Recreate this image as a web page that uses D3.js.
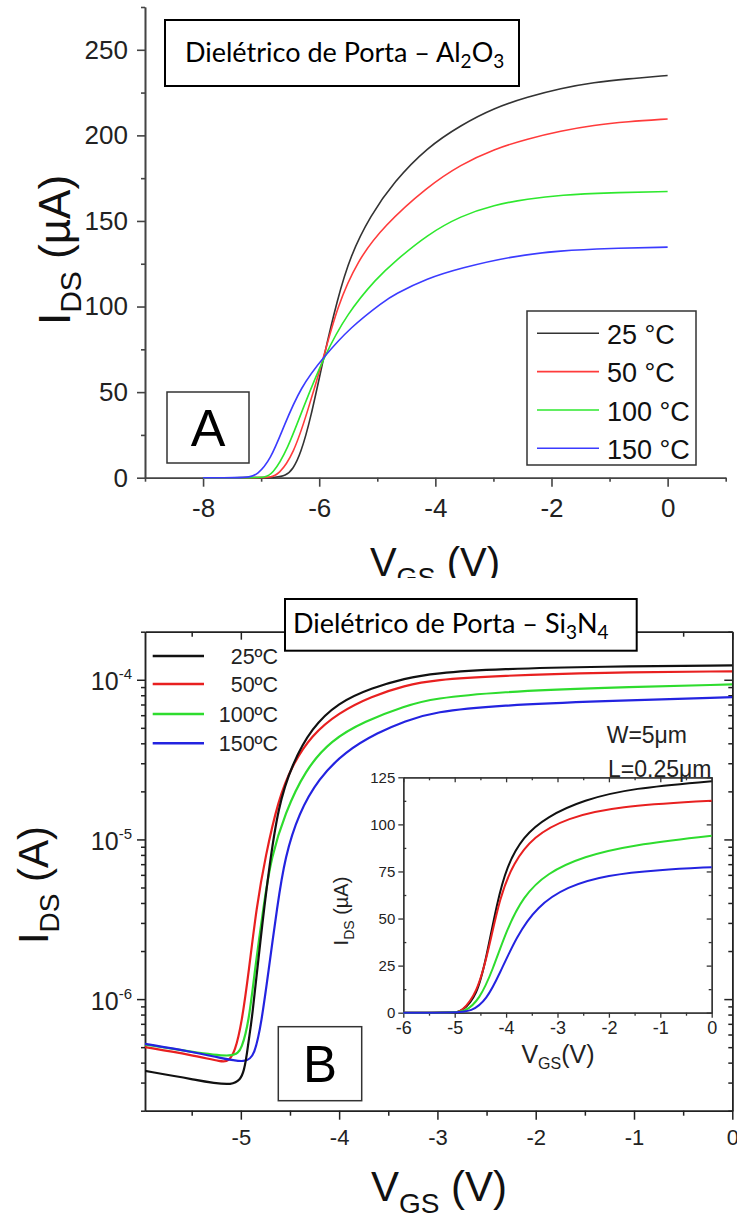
<!DOCTYPE html>
<html>
<head>
<meta charset="utf-8">
<script src="https://cdn.jsdelivr.net/npm/d3@7"></script>
<style>
  html, body { margin: 0; padding: 0; background: #fff; }
  svg { display: block; }
</style>
</head>
<body>
<script>
// ---------------- DATA ----------------
// Panel A (Al2O3), linear, IDS in µA
const seriesNames = ["25 °C", "50 °C", "100 °C", "150 °C"];
const seriesNamesB = ["25ºC", "50ºC", "100ºC", "150ºC"];

const vA25 = [-8,-7,-6.75,-6.58,-6.45,-6.32,-6.15,-5.92,-5.69,-5.46,-5.12,-4.71,-4.14,-3.56,-2.99,-2.41,-1.84,-1.27,-0.69,0];
const iA25 = [0,0,0.2,1,5,14,34,71,104,130,153,173,193,206,216,222.5,227.5,231,233,235];
const vA50 = [-8,-7,-6.85,-6.70,-6.44,-6.21,-5.92,-5.69,-5.34,-4.89,-4.14,-3.56,-2.99,-2.41,-1.84,-1.27,-0.69,0];
const iA50 = [0,0,0.2,1.6,14,37.6,70.7,100,127,147,170,183,192,198,202.6,206,208,209.6];
const vA100 = [-8,-7.1,-6.95,-6.81,-6.55,-6.27,-5.92,-5.52,-5.0,-4.71,-4.14,-3.56,-2.99,-2.41,-1.84,-1,0];
const iA100 = [0,0,0.2,1.6,16,41.5,70.7,96,117,126,142,153,159.4,162.9,165.2,166.5,167.2];
const vA150 = [-8,-7.4,-7.2,-7.07,-6.84,-6.61,-6.32,-5.92,-5.46,-4.89,-4.71,-4.14,-3.56,-2.70,-1.84,-1,0];
const iA150 = [0,0,0.3,1.6,10.3,30,53,70.7,88,103,107,116.5,122.5,129.3,132.7,134,134.7];

const xTicksA = [-8,-6,-4,-2,0];
const xMinorA = [-9,-7,-5,-3,-1,1];
const yTicksA = [0,50,100,150,200,250];
const yMinorA = [25,75,125,175,225,275];

// Panel B (Si3N4), log, IDS in A
const vB25 = [-5.975,-5.5,-5.05,-4.96,-4.92,-4.89,-4.80,-4.72,-4.62,-4.48,-4.28,-4.01,-3.67,-3.33,-3.04,-2.36,-1.35,0];
const iB25 = [3.55e-7,3.16e-7,2.78e-7,3.48e-7,5.62e-7,7.14e-7,2.37e-6,6.17e-6,1.62e-5,2.95e-5,5.0e-5,7.2e-5,8.9e-5,1.02e-4,1.10e-4,1.17e-4,1.21e-4,1.23e-4];
const vB50 = [-5.975,-5.5,-5.18,-5.13,-5.06,-4.99,-4.92,-4.84,-4.75,-4.62,-4.48,-4.28,-4.01,-3.67,-3.33,-3.04,-2.36,-1.35,0];
const iB50 = [5.01e-7,4.47e-7,4.03e-7,4.07e-7,4.65e-7,7.14e-7,1.47e-6,3.81e-6,7.82e-6,1.77e-5,2.9e-5,4.5e-5,6.2e-5,7.9e-5,9.2e-5,1.0e-4,1.06e-4,1.11e-4,1.13e-4];
const vB100 = [-5.975,-5.5,-5.06,-4.99,-4.92,-4.86,-4.77,-4.69,-4.55,-4.35,-4.08,-3.74,-3.33,-3.04,-2.36,-1.35,0];
const iB100 = [5.19e-7,4.68e-7,4.27e-7,4.90e-7,7.14e-7,1.47e-6,3.81e-6,7.82e-6,1.46e-5,2.7e-5,4.2e-5,5.5e-5,6.85e-5,7.65e-5,8.4e-5,8.91e-5,9.35e-5];
const vB150 = [-5.975,-5.5,-5.2,-4.95,-4.86,-4.79,-4.72,-4.63,-4.55,-4.41,-4.21,-3.94,-3.60,-3.33,-3.04,-2.36,-1.35,0];
const iB150 = [5.25e-7,4.68e-7,4.27e-7,3.98e-7,4.43e-7,7.14e-7,1.47e-6,3.81e-6,7.82e-6,1.46e-5,2.4e-5,3.55e-5,4.7e-5,5.5e-5,6.3e-5,6.92e-5,7.35e-5,7.78e-5];

const xTicksB = [-5,-4,-3,-2,-1,0];
const xMinorB = [-5.5,-4.5,-3.5,-2.5,-1.5,-0.5];
const yTicksB = [1e-6,1e-5,1e-4];
const yTickExpB = ["-6","-5","-4"];
const yMinorB = [2e-7,3e-7,4e-7,5e-7,6e-7,7e-7,8e-7,9e-7,2e-6,3e-6,4e-6,5e-6,6e-6,7e-6,8e-6,9e-6,2e-5,3e-5,4e-5,5e-5,6e-5,7e-5,8e-5,9e-5,2e-4];

// Inset (linear, µA)
const vI25 = [-6,-5,-4.87,-4.57,-4.38,-4.18,-3.99,-3.67,-3.21,-2.50,-1.53,0];
const iI25 = [0,0,0.5,8.5,29.8,58,77.7,93.6,104,113,119.3,122.9];
const vI50 = [-6,-5,-4.87,-4.57,-4.35,-4.12,-3.86,-3.47,-2.82,-1.85,0];
const iI50 = [0,0,0.5,10,32,61.7,79.4,93.6,103.4,109.6,112.6];
const vI100 = [-6,-5,-4.80,-4.52,-4.26,-3.99,-3.67,-3.21,-2.50,-1.53,0];
const iI100 = [0,0,0.5,6.8,22.7,44,61.7,74.1,83,89.2,94];
const vI150 = [-6,-5,-4.67,-4.38,-4.12,-3.80,-3.40,-2.82,-2.04,-1.01,0];
const iI150 = [0,0,0.5,6.8,21,40.4,56.4,67,73.2,75.9,77.3];

const xTicksI = [-6,-5,-4,-3,-2,-1,0];
const xMinorI = [-5.5,-4.5,-3.5,-2.5,-1.5,-0.5];
const yTicksI = [0,25,50,75,100,125];
const yMinorI = [12.5,37.5,62.5,87.5,112.5];

// ---------------- DRAW ----------------
const FONT = "'Liberation Sans', Arial, Helvetica, sans-serif";
const TFONT = "Lato, 'Open Sans', sans-serif";
const colorsA = ["#333333", "#ff3b3b", "#2ee82e", "#3b3bff"];
const colorsB = ["#111111", "#e82020", "#2edc2e", "#2323e0"];

const svg = d3.select("body").append("svg")
  .attr("width", 737).attr("height", 1218)
  .attr("viewBox", "0 0 737 1218");
svg.append("rect").attr("width", 737).attr("height", 1218).attr("fill", "#fff");

function rich(parent, x, y, o, parts) {
  const t = parent.append("text").attr("x", x).attr("y", y)
    .attr("font-family", o.family || FONT).attr("font-size", o.size)
    .attr("text-anchor", o.anchor || "start").attr("fill", o.fill || "#111");
  if (o.rotate) t.attr("transform", `rotate(${o.rotate},${x},${y})`);
  parts.forEach(p => {
    const ts = t.append("tspan").text(p.t);
    if (p.dy) ts.attr("dy", p.dy);
    if (p.size) ts.attr("font-size", p.size);
  });
  return t;
}
function styleAxis(g, col, w) {
  g.selectAll("path.domain").attr("stroke", col).attr("stroke-width", w);
  g.selectAll(".tick line").attr("stroke", col).attr("stroke-width", w);
  g.selectAll(".tick text").attr("fill", "#222");
  g.attr("font-family", FONT);
}

// ===== Panel A =====
const xA = d3.scaleLinear().domain([-9, 1]).range([145, 725.7]);
const yA = d3.scaleLinear().domain([0, 275]).range([477.7, 7]);
const gA = svg.append("g");

const axA = gA.append("g").attr("transform", `translate(0,${yA(0)})`);
axA.append("g").call(d3.axisBottom(xA).tickValues(xMinorA).tickSize(4).tickFormat("").tickSizeOuter(0));
axA.append("g").call(d3.axisBottom(xA).tickValues(xTicksA).tickSize(9).tickPadding(12).tickSizeOuter(0).tickFormat(d => String(d)))
  .attr("font-size", 26);
styleAxis(axA, "#444", 1.6);
axA.attr("font-size", 26);

const ayA = gA.append("g").attr("transform", `translate(${xA(-9)},0)`);
ayA.append("g").call(d3.axisLeft(yA).tickValues(yMinorA).tickSize(4).tickFormat("").tickSizeOuter(0));
ayA.append("g").call(d3.axisLeft(yA).tickValues(yTicksA).tickSize(8).tickPadding(9).tickSizeOuter(0).tickFormat(d => String(d)))
  .attr("font-size", 26);
styleAxis(ayA, "#444", 1.6);

const dataA = [[vA25, iA25], [vA50, iA50], [vA100, iA100], [vA150, iA150]];
const lineA = d3.line().x(d => xA(d[0])).y(d => yA(d[1])).curve(d3.curveBasis);
dataA.forEach((s, k) => {
  gA.append("path").datum(d3.zip(s[0], s[1])).attr("d", lineA)
    .attr("fill", "none").attr("stroke", colorsA[k]).attr("stroke-width", 1.6);
});

// title box A
gA.append("rect").attr("x", 165).attr("y", 20).attr("width", 354).attr("height", 66)
  .attr("fill", "#fff").attr("stroke", "#000").attr("stroke-width", 2);
rich(gA, 185, 62, {family: TFONT, size: 27, fill: "#000"},
  [{t: "Dielétrico de Porta – Al"}, {t: "2", dy: 6, size: 19}, {t: "O", dy: -6}, {t: "3", dy: 6, size: 19}]);

// box "A"
gA.append("rect").attr("x", 167).attr("y", 392).attr("width", 82).attr("height", 71)
  .attr("fill", "#fff").attr("stroke", "#333").attr("stroke-width", 1.5);
gA.append("text").attr("x", 208).attr("y", 446).attr("text-anchor", "middle")
  .attr("font-family", FONT).attr("font-size", 52).attr("fill", "#000").text("A");

// legend A
gA.append("rect").attr("x", 527).attr("y", 311).attr("width", 169).attr("height", 154)
  .attr("fill", "#fff").attr("stroke", "#333").attr("stroke-width", 1.5);
const legBaseA = [344, 382.3, 420.7, 459];
seriesNames.forEach((n, k) => {
  gA.append("line").attr("x1", 537).attr("x2", 599).attr("y1", legBaseA[k] - 10.7).attr("y2", legBaseA[k] - 10.7)
    .attr("stroke", colorsA[k]).attr("stroke-width", 1.6);
  gA.append("text").attr("x", 607).attr("y", legBaseA[k]).attr("font-family", FONT)
    .attr("font-size", 27).attr("fill", "#111").text(n);
});

// axis labels A
rich(gA, 70, 250, {size: 44, anchor: "middle", rotate: -90},
  [{t: "I"}, {t: "DS", dy: 11, size: 30}, {t: " (µA)", dy: -11}]);
rich(gA, 435, 576, {size: 40, anchor: "middle"},
  [{t: "V"}, {t: "GS", dy: 11, size: 27}, {t: " (V)", dy: -11}]);

// ===== Panel B =====
svg.append("rect").attr("x", 0).attr("y", 578).attr("width", 737).attr("height", 640).attr("fill", "#fff");
const gB = svg.append("g");
const xB = d3.scaleLinear().domain([-5.975, 0]).range([145, 732.3]);
const yB = d3.scaleLog().domain([2e-7, 2e-4]).range([1110.7, 631.7]);
const [bx0, bx1] = xB.range();
const [by1, by0] = yB.range();

gB.append("defs").append("clipPath").attr("id", "clipB")
  .append("rect").attr("x", bx0).attr("y", by0).attr("width", bx1 - bx0).attr("height", by1 - by0);

const axB = gB.append("g").attr("transform", `translate(0,${by1})`);
axB.append("g").call(d3.axisBottom(xB).tickValues(xMinorB).tickSize(5).tickFormat("").tickSizeOuter(0));
axB.append("g").call(d3.axisBottom(xB).tickValues(xTicksB).tickSize(9).tickPadding(10).tickSizeOuter(0).tickFormat(d => String(d)))
  .attr("font-size", 22);
styleAxis(axB, "#222", 1.5);
const atB = gB.append("g").attr("transform", `translate(0,${by0})`);
atB.append("g").call(d3.axisTop(xB).tickValues(xMinorB).tickSize(-5).tickFormat("").tickSizeOuter(0));
atB.append("g").call(d3.axisTop(xB).tickValues(xTicksB).tickSize(-8).tickFormat("").tickSizeOuter(0));
styleAxis(atB, "#222", 1.5);
const alB = gB.append("g").attr("transform", `translate(${bx0},0)`);
alB.append("g").call(d3.axisLeft(yB).tickValues(yMinorB).tickSize(4).tickFormat("").tickSizeOuter(0));
alB.append("g").call(d3.axisLeft(yB).tickValues(yTicksB).tickSize(8).tickFormat("").tickSizeOuter(0));
styleAxis(alB, "#222", 1.5);
yTicksB.forEach((v, k) => {
  rich(gB, 132, yB(v) + 10.5, {size: 25, anchor: "end", fill: "#222"},
    [{t: "10"}, {t: yTickExpB[k], dy: -11, size: 15}]);
});
const arB = gB.append("g").attr("transform", `translate(${bx1},0)`);
arB.append("g").call(d3.axisRight(yB).tickValues(yMinorB).tickSize(-4).tickFormat("").tickSizeOuter(0));
arB.append("g").call(d3.axisRight(yB).tickValues(yTicksB).tickSize(-8).tickFormat("").tickSizeOuter(0));
styleAxis(arB, "#222", 1.5);

const dataB = [[vB25, iB25], [vB50, iB50], [vB100, iB100], [vB150, iB150]];
const lineB = d3.line().x(d => xB(d[0])).y(d => yB(d[1])).curve(d3.curveBasis);
const curvesB = gB.append("g").attr("clip-path", "url(#clipB)");
[1, 2, 3, 0].forEach(k => {
  const s = dataB[k];
  curvesB.append("path").datum(d3.zip(s[0], s[1])).attr("d", lineB)
    .attr("fill", "none").attr("stroke", colorsB[k]).attr("stroke-width", 2.2);
});

// legend B
const legYB = [656, 684, 714, 743.3];
seriesNamesB.forEach((n, k) => {
  gB.append("line").attr("x1", 152.7).attr("x2", 204).attr("y1", legYB[k]).attr("y2", legYB[k])
    .attr("stroke", colorsB[k]).attr("stroke-width", 2.5);
  gB.append("text").attr("x", 278).attr("y", legYB[k] + 8).attr("text-anchor", "end")
    .attr("font-family", FONT).attr("font-size", 21.5).attr("fill", "#222").text(n);
});

// title box B
gB.append("rect").attr("x", 285).attr("y", 599).attr("width", 351.7).attr("height", 51.7)
  .attr("fill", "#fff").attr("stroke", "#000").attr("stroke-width", 2);
rich(gB, 293, 633.3, {family: TFONT, size: 27, fill: "#000"},
  [{t: "Dielétrico de Porta – Si"}, {t: "3", dy: 6, size: 19}, {t: "N", dy: -6}, {t: "4", dy: 6, size: 19}]);

// box "B"
gB.append("rect").attr("x", 278.3).attr("y", 1026.7).attr("width", 83.4).attr("height", 74)
  .attr("fill", "#fff").attr("stroke", "#333").attr("stroke-width", 1.5);
gB.append("text").attr("x", 320).attr("y", 1081.7).attr("text-anchor", "middle")
  .attr("font-family", FONT).attr("font-size", 51).attr("fill", "#000").text("B");

// axis labels B
rich(gB, 48, 885, {size: 42, anchor: "middle", rotate: -90},
  [{t: "I"}, {t: "DS", dy: 11, size: 28}, {t: " (A)", dy: -11}]);
rich(gB, 439, 1201, {size: 42, anchor: "middle"},
  [{t: "V"}, {t: "GS", dy: 12, size: 28}, {t: " (V)", dy: -12}]);

// ===== Inset =====
const xI = d3.scaleLinear().domain([-6, 0]).range([403.3, 711.7]);
const yI = d3.scaleLinear().domain([0, 125]).range([1012.7, 777.3]);
const gI = gB.append("g");
gI.append("rect").attr("x", 403.3).attr("y", 777.3).attr("width", 308.4).attr("height", 235.4).attr("fill", "#fff");
const axI = gI.append("g").attr("transform", `translate(0,${yI(0)})`);
axI.append("g").call(d3.axisBottom(xI).tickValues(xMinorI).tickSize(3).tickFormat("").tickSizeOuter(0));
axI.append("g").call(d3.axisBottom(xI).tickValues(xTicksI).tickSize(5).tickPadding(4).tickSizeOuter(0).tickFormat(d => String(d)))
  .attr("font-size", 18);
styleAxis(axI, "#333", 1.3);
const atI = gI.append("g").attr("transform", `translate(0,${yI(125)})`);
atI.append("g").call(d3.axisTop(xI).tickValues(xMinorI).tickSize(-3).tickFormat("").tickSizeOuter(0));
atI.append("g").call(d3.axisTop(xI).tickValues(xTicksI).tickSize(-5).tickFormat("").tickSizeOuter(0));
styleAxis(atI, "#333", 1.3);
const alI = gI.append("g").attr("transform", `translate(${xI(-6)},0)`);
alI.append("g").call(d3.axisLeft(yI).tickValues(yMinorI).tickSize(-3).tickFormat("").tickSizeOuter(0));
alI.append("g").call(d3.axisLeft(yI).tickValues(yTicksI).tickSize(5).tickPadding(3).tickSizeOuter(0).tickFormat(d => String(d)))
  .attr("font-size", 15);
styleAxis(alI, "#333", 1.3);
const arI = gI.append("g").attr("transform", `translate(${xI(0)},0)`);
arI.append("g").call(d3.axisRight(yI).tickValues(yMinorI).tickSize(-3).tickFormat("").tickSizeOuter(0));
arI.append("g").call(d3.axisRight(yI).tickValues(yTicksI).tickSize(-5).tickFormat("").tickSizeOuter(0));
styleAxis(arI, "#333", 1.3);

const dataI = [[vI25, iI25], [vI50, iI50], [vI100, iI100], [vI150, iI150]];
const lineI = d3.line().x(d => xI(d[0])).y(d => yI(d[1])).curve(d3.curveBasis);
dataI.forEach((s, k) => {
  gI.append("path").datum(d3.zip(s[0], s[1])).attr("d", lineI)
    .attr("fill", "none").attr("stroke", colorsB[k]).attr("stroke-width", 2);
});

rich(gI, 348, 911, {size: 20, anchor: "middle", rotate: -90, fill: "#222"},
  [{t: "I"}, {t: "DS", dy: 6, size: 14}, {t: " (µA)", dy: -6}]);
rich(gI, 558, 1063, {size: 25, anchor: "middle", fill: "#222"},
  [{t: "V"}, {t: "GS", dy: 6, size: 16}, {t: "(V)", dy: -6}]);

// W / L annotation
gB.append("text").attr("x", 606.7).attr("y", 743).attr("font-family", FONT).attr("font-size", 23)
  .attr("fill", "#222").text("W=5μm");
gB.append("text").attr("x", 608).attr("y", 777).attr("font-family", FONT).attr("font-size", 23)
  .attr("fill", "#222").text("L=0.25μm");
</script>
</body>
</html>
